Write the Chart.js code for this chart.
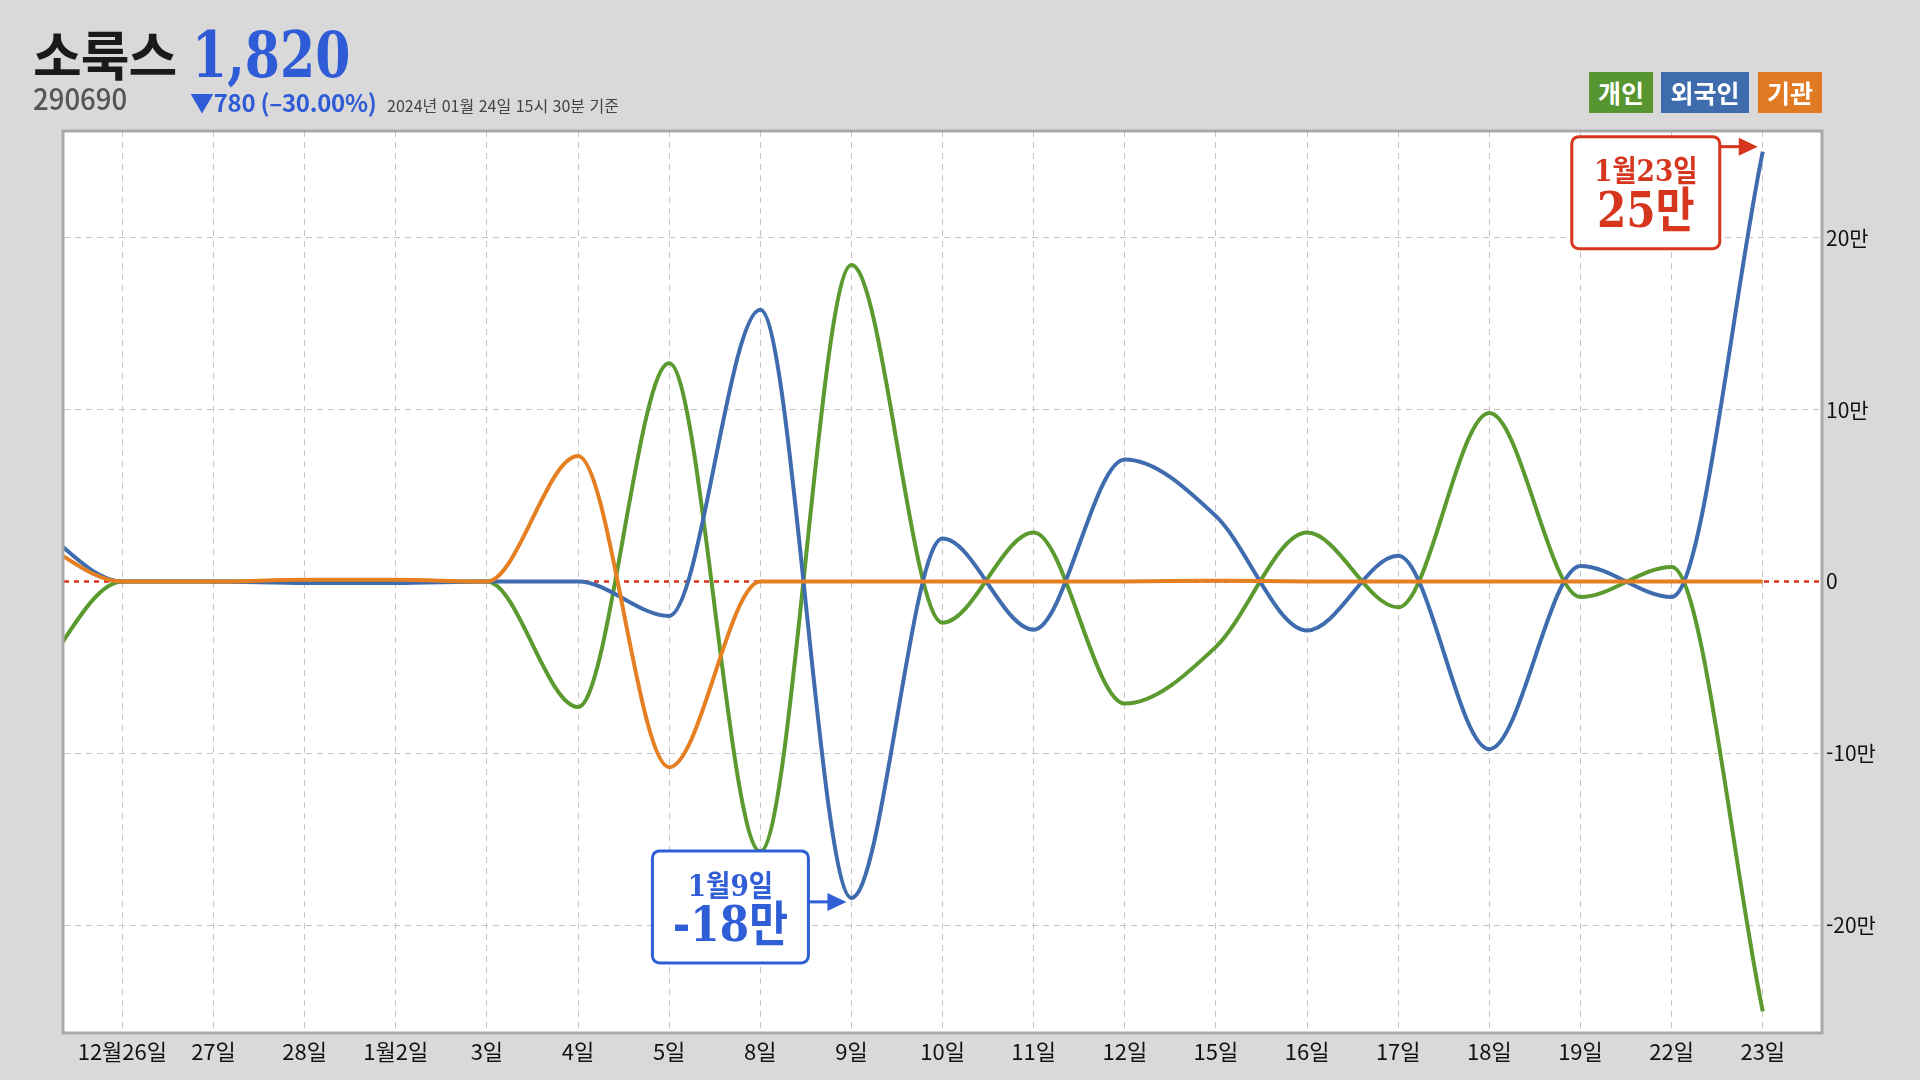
<!DOCTYPE html>
<html lang="ko">
<head>
  <meta charset="UTF-8" />
  <title>소룩스 투자자별 순매수</title>
  <script src="https://cdn.jsdelivr.net/npm/chart.js@4"></script>
  <style>
    html, body { margin: 0; padding: 0; }
    body {
      width: 1920px; height: 1080px;
      background: #d9d9d9;
      position: relative;
      overflow: hidden;
      font-family: "Noto Sans CJK KR", "Noto Sans", sans-serif;
    }
    #chart { position: absolute; left: 0; top: 0; }
    .hd { position: absolute; line-height: 1; white-space: nowrap; }
    #name { left: 33px; top: 27px; font-size: 53px; font-weight: 700; color: #1a1a1a; letter-spacing: -1px; }
    #price {
      left: 192px; top: 23px; font-size: 64px; font-weight: 700; color: #2f5bd6;
      font-family: "DejaVu Serif", serif;
      transform: scaleX(0.79); transform-origin: left top;
    }
    #code {
      left: 33px; top: 83px; font-size: 29px; color: #555; font-weight: 500;
      transform: scaleX(0.95); transform-origin: left top;
    }
    #change { left: 190px; top: 90px; font-size: 24px; font-weight: 700; color: #2f5bd6; letter-spacing: -0.3px; }
    #date { left: 387px; top: 97px; font-size: 16px; color: #444; }
    .leg {
      position: absolute; top: 72px; height: 41px;
      color: #fff; font-size: 25px; font-weight: 700;
      line-height: 41px; text-align: center;
    }
  </style>
</head>
<body>
  <canvas id="chart" width="1920" height="1080"></canvas>

  <div class="hd" id="name">소룩스</div>
  <div class="hd" id="price">1,820</div>
  <div class="hd" id="code">290690</div>
  <div class="hd" id="change">▼780 (–30.00%)</div>
  <div class="hd" id="date">2024년 01월 24일 15시 30분 기준</div>

  <div class="leg" style="left:1589px;width:64px;background:#569530;">개인</div>
  <div class="leg" style="left:1661px;width:88px;background:#3f6cac;">외국인</div>
  <div class="leg" style="left:1758px;width:64px;background:#e07b24;">기관</div>

  <script>
    // first day (12/22) sits just off the left edge of the plot
    const dates = ['12월22일', '12월26일', '27일', '28일', '1월2일', '3일', '4일', '5일', '8일', '9일',
                   '10일', '11일', '12일', '15일', '16일', '17일', '18일', '19일', '22일', '23일'];

    // net buying (shares)
    const gaein   = [-61000, 0, 0, 0, 0, 0, -73000, 127000, -157000, 184000,
                     -24000, 28500, -71000, -38000, 28500, -15000, 98000, -9000, 8500, -250000];
    const foreign = [35000, 0, 0, -800, -800, 0, 0, -20000, 158000, -184000,
                     25000, -28000, 71000, 38000, -28500, 15000, -97500, 9000, -9000, 250000];
    const gigwan  = [26000, 0, 0, 1000, 1000, 0, 73000, -108000, 0, 0,
                     0, 0, 0, 500, 0, 0, 0, 0, 0, 0];

    const yTicks = [-200000, -100000, 0, 100000, 200000];

    const callouts = [
      { idx: 19, value: 250000, top: '1월23일', bottom: '25만', color: '#d6361e',
        dx: -191, dy: -15, w: 148, h: 112, arrowDy: -5 },
      { idx: 9, value: -184000, top: '1월9일', bottom: '-18만', color: '#2f5ed6',
        dx: -199, dy: -47, w: 156, h: 112, arrowDy: 4 }
    ];

    const toPoints = arr => arr.map((v, i) => ({ x: i - 1, y: v }));

    const frameAndZero = {
      id: 'frameAndZero',
      beforeDraw(chart) {
        const { ctx, chartArea: a } = chart;
        ctx.save();
        ctx.fillStyle = '#fff';
        ctx.fillRect(a.left, a.top, a.right - a.left, a.bottom - a.top);
        ctx.restore();
      },
      beforeDatasetsDraw(chart) {
        const { ctx, chartArea: a, scales: { y } } = chart;
        const zy = y.getPixelForValue(0);
        ctx.save();
        ctx.strokeStyle = '#d8321e';
        ctx.lineWidth = 2.5;
        ctx.setLineDash([5, 5]);
        ctx.beginPath();
        ctx.moveTo(a.left, zy);
        ctx.lineTo(a.right, zy);
        ctx.stroke();
        ctx.restore();
      },
      afterDatasetsDraw(chart) {
        const { ctx, chartArea: a } = chart;
        ctx.save();
        ctx.strokeStyle = '#a9a9a9';
        ctx.lineWidth = 3;
        ctx.strokeRect(a.left - 1, a.top, a.right - a.left + 1, a.bottom - a.top + 1);
        ctx.restore();
      }
    };

    const roundRect = (ctx, x, y, w, h, r) => {
      ctx.beginPath();
      ctx.moveTo(x + r, y);
      ctx.arcTo(x + w, y, x + w, y + h, r);
      ctx.arcTo(x + w, y + h, x, y + h, r);
      ctx.arcTo(x, y + h, x, y, r);
      ctx.arcTo(x, y, x + w, y, r);
      ctx.closePath();
    };

    const calloutPlugin = {
      id: 'callouts',
      afterDraw(chart) {
        const { ctx, scales: { x, y } } = chart;
        callouts.forEach(c => {
          const px = x.getPixelForValue(c.idx - 1);
          const py = y.getPixelForValue(c.value);
          const bx = px + c.dx, by = py + c.dy;
          ctx.save();
          roundRect(ctx, bx, by, c.w, c.h, 7);
          ctx.fillStyle = '#fff';
          ctx.fill();
          ctx.lineWidth = 3;
          ctx.strokeStyle = c.color;
          ctx.stroke();

          // arrow
          const ay = py + c.arrowDy, tip = px - 5;
          ctx.beginPath();
          ctx.moveTo(bx + c.w, ay);
          ctx.lineTo(tip - 16, ay);
          ctx.stroke();
          ctx.beginPath();
          ctx.moveTo(tip, ay);
          ctx.lineTo(tip - 19, ay - 9);
          ctx.lineTo(tip - 19, ay + 9);
          ctx.closePath();
          ctx.fillStyle = c.color;
          ctx.fill();

          // text
          const cx = bx + c.w / 2;
          ctx.textAlign = 'center';
          ctx.textBaseline = 'middle';
          ctx.fillStyle = c.color;
          ctx.translate(cx, 0);
          ctx.scale(0.88, 1);
          ctx.font = 'bold 30px "DejaVu Serif", "Noto Sans CJK KR"';
          ctx.fillText(c.top, 0, by + 37);
          ctx.font = 'bold 48px "DejaVu Serif", "Noto Sans CJK KR"';
          ctx.fillText(c.bottom, 0, by + 78);
          ctx.restore();
        });
      }
    };

    const lineSet = (label, data, color, order) => ({
      label,
      data: toPoints(data),
      borderColor: color,
      backgroundColor: color,
      borderWidth: 4,
      pointRadius: 0,
      cubicInterpolationMode: 'monotone',
      fill: false,
      order
    });

    new Chart(document.getElementById('chart'), {
      type: 'line',
      data: {
        datasets: [
          lineSet('개인', gaein, '#5a9a2e', 2),
          lineSet('외국인', foreign, '#3e6cae', 1),
          lineSet('기관', gigwan, '#e57f22', 0)
        ]
      },
      options: {
        responsive: false,
        animation: false,
        devicePixelRatio: 1,
        layout: { padding: { left: 64, top: 131, right: 0, bottom: 0 } },
        plugins: { legend: { display: false }, tooltip: { enabled: false } },
        scales: {
          x: {
            type: 'linear',
            position: 'bottom',
            min: -0.64,
            max: 18.65,
            afterBuildTicks: s => { s.ticks = dates.slice(1).map((_, i) => ({ value: i })); },
            afterFit: s => { s.height = 48; },
            ticks: {
              callback: v => dates[v + 1],
              autoSkip: false,
              maxRotation: 0,
              padding: 6,
              color: '#111',
              font: { family: '"Noto Sans CJK KR"', size: 22 }
            },
            grid: { color: '#c4c4c4', lineWidth: 1, drawTicks: false },
            border: { display: false, dash: [6, 5] }
          },
          y: {
            position: 'right',
            min: -262000,
            max: 262000,
            afterBuildTicks: s => { s.ticks = yTicks.map(v => ({ value: v })); },
            afterFit: s => { s.width = 98; },
            ticks: {
              callback: v => v === 0 ? '0' : (v / 10000) + '만',
              padding: 4,
              color: '#111',
              font: { family: '"Noto Sans CJK KR"', size: 21 }
            },
            grid: {
              color: c => c.tick && c.tick.value === 0 ? 'rgba(0,0,0,0)' : '#c4c4c4',
              lineWidth: 1,
              drawTicks: false
            },
            border: { display: false, dash: [6, 5] }
          }
        }
      },
      plugins: [frameAndZero, calloutPlugin]
    });
  </script>
</body>
</html>
